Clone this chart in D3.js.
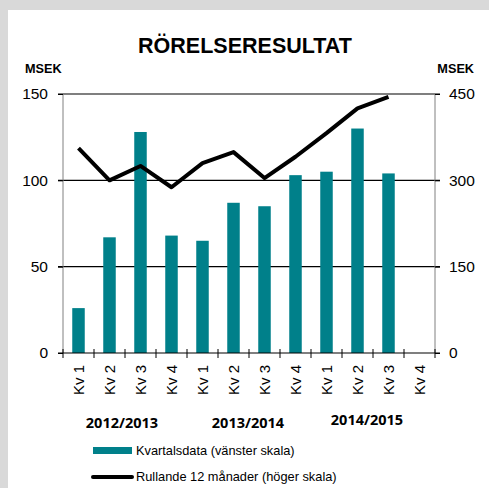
<!DOCTYPE html>
<html lang="sv">
<head>
<meta charset="UTF-8">
<title>Rörelseresultat</title>
<script src="https://cdnjs.cloudflare.com/ajax/libs/d3/7.8.5/d3.min.js"></script>
<style>
    body { margin: 0; background: #d9d9d9; }
    svg { display: block; font-family: Arial, 'Liberation Sans', sans-serif; }
</style>
</head>
<body>
<div id="chart"></div>
<script>
const quarters = ["Kv 1", "Kv 2", "Kv 3", "Kv 4", "Kv 1", "Kv 2", "Kv 3", "Kv 4", "Kv 1", "Kv 2", "Kv 3", "Kv 4"];
const years = ["2012/2013", "2013/2014", "2014/2015"];
const quarterly = [26, 67, 128, 68, 65, 87, 85, 103, 105, 130, 104, null];
const rolling = [356, 300, 325, 288, 330, 349, 304, 341, 382, 425, 445, null];
const leftTicks = [0, 50, 100, 150];
const rightTicks = [0, 150, 300, 450];

const W = 489, H = 488;
const margin = { top: 94, right: 54, bottom: 135, left: 63 };
const iw = W - margin.left - margin.right;
const ih = H - margin.top - margin.bottom;

const svg = d3.select("#chart").append("svg")
    .attr("width", W).attr("height", H);

// white panel
svg.append("rect").attr("x", 8).attr("y", 10)
    .attr("width", W - 8).attr("height", H - 10).attr("fill", "#fff");

svg.append("text").attr("x", 245).attr("y", 53)
    .attr("text-anchor", "middle").attr("font-size", 21.5).attr("font-weight", "bold")
    .text("RÖRELSERESULTAT");
svg.append("text").attr("x", 25).attr("y", 73)
    .attr("font-size", 12.7).attr("font-weight", "bold").text("MSEK");
svg.append("text").attr("x", 474).attr("y", 73).attr("text-anchor", "end")
    .attr("font-size", 12.7).attr("font-weight", "bold").text("MSEK");

const g = svg.append("g").attr("transform", `translate(${margin.left},${margin.top})`);

const x = d3.scaleBand().domain(d3.range(quarters.length)).range([0, iw]);
const yL = d3.scaleLinear().domain([0, 150]).range([ih, 0]);
const yR = d3.scaleLinear().domain([0, 450]).range([ih, 0]);

// gridlines
g.append("g").selectAll("line").data(leftTicks.filter(d => d > 0)).join("line")
    .attr("x1", -5).attr("x2", iw + 5)
    .attr("y1", d => yL(d)).attr("y2", d => yL(d))
    .attr("stroke", "#000").attr("stroke-width", 1.2);

// bars
const bw = 12.5;
g.append("g").selectAll("rect").data(quarterly.map((v, i) => ({ v, i })).filter(d => d.v != null)).join("rect")
    .attr("x", d => x(d.i) + x.bandwidth() / 2 - bw / 2)
    .attr("width", bw)
    .attr("y", d => yL(d.v))
    .attr("height", d => ih - yL(d.v))
    .attr("fill", "#00808a");

// line
const line = d3.line()
    .defined(d => d != null)
    .x((d, i) => x(i) + x.bandwidth() / 2)
    .y(d => yR(d));
g.append("path").datum(rolling)
    .attr("d", line).attr("fill", "none")
    .attr("stroke", "#000").attr("stroke-width", 4)
    .attr("stroke-linejoin", "round");

// left axis
const axL = g.append("g").call(d3.axisLeft(yL).tickValues(leftTicks).tickSize(5).tickPadding(10));
axL.select(".domain").attr("stroke", "#808080").attr("d", `M0,${ih}V0`);
axL.selectAll("text").attr("font-size", 15.5).attr("fill", "#000").attr("font-family", "Arial, 'Liberation Sans', sans-serif");
axL.selectAll(".tick line").attr("stroke", "#000");

// right axis
const axR = g.append("g").attr("transform", `translate(${iw},0)`)
    .call(d3.axisRight(yR).tickValues(rightTicks).tickSize(5).tickPadding(9));
axR.select(".domain").attr("stroke", "#808080").attr("d", `M0,${ih}V0`);
axR.selectAll("text").attr("font-size", 15.5).attr("fill", "#000").attr("font-family", "Arial, 'Liberation Sans', sans-serif");
axR.selectAll(".tick line").attr("stroke", "#000");

// bottom axis
const bottom = g.append("g").attr("transform", `translate(0,${ih})`);
bottom.append("line").attr("x1", -5).attr("x2", iw + 5).attr("stroke", "#000").attr("stroke-width", 1.2);
bottom.selectAll(".qtick").data(d3.range(quarters.length + 1)).join("line")
    .attr("x1", i => i * x.step()).attr("x2", i => i * x.step())
    .attr("y1", -4).attr("y2", 5).attr("stroke", "#000");
bottom.selectAll(".qlabel").data(quarters).join("text")
    .attr("transform", (d, i) => `translate(${x(i) + x.bandwidth() / 2 + 5.5},12) rotate(-90)`)
    .attr("text-anchor", "end").attr("font-size", 15)
    .text(d => d);

// year labels
svg.selectAll(".year").data(years).join("text")
    .attr("x", (d, i) => margin.left + x.step() * (4 * i + 2) - [3, 1, 6][i])
    .attr("y", (d, i) => [428, 428, 425][i])
    .attr("text-anchor", "middle").attr("font-size", 14.5).attr("font-weight", "bold")
    .attr("font-family", "'Open Sans', 'DejaVu Sans', sans-serif")
    .text(d => d);

// legend
svg.append("rect").attr("x", 93).attr("y", 447).attr("width", 39).attr("height", 7).attr("fill", "#00808a");
svg.append("text").attr("x", 136).attr("y", 455).attr("font-size", 12.8).text("Kvartalsdata (vänster skala)");
svg.append("line").attr("x1", 93).attr("x2", 132).attr("y1", 477).attr("y2", 477)
    .attr("stroke", "#000").attr("stroke-width", 4).attr("stroke-linecap", "round");
svg.append("text").attr("x", 136).attr("y", 481).attr("font-size", 12.8).text("Rullande 12 månader (höger skala)");
</script>
</body>
</html>
